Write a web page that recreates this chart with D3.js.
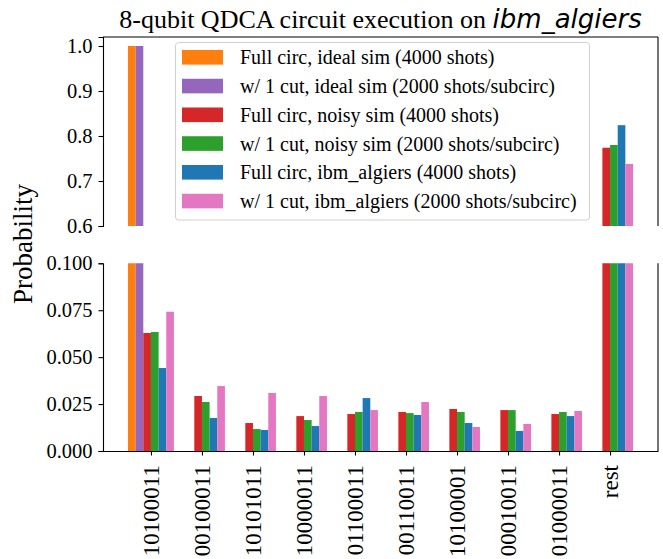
<!DOCTYPE html>
<html>
<head>
<meta charset="utf-8">
<script src="https://cdn.jsdelivr.net/npm/d3@7"></script>
<style>
  html, body { margin: 0; padding: 0; background: #fff; }
  svg text { font-family: "Liberation Serif", "Times New Roman", serif; fill: #000; }
  .axis path, .axis line { stroke: #000; stroke-width: 1.1; }
</style>
</head>
<body>
<div id="chart"></div>
<script>
// Outcome bitstrings (x categories)
const CATEGORIES = ["10100011", "00100011", "10101011", "10000011", "01100011",
                    "00110011", "10100001", "00010011", "01000011", "rest"];

const SERIES_NAMES = [
  "Full circ, ideal sim (4000 shots)",
  "w/ 1 cut, ideal sim (2000 shots/subcirc)",
  "Full circ, noisy sim (4000 shots)",
  "w/ 1 cut, noisy sim (2000 shots/subcirc)",
  "Full circ, ibm_algiers (4000 shots)",
  "w/ 1 cut, ibm_algiers (2000 shots/subcirc)",
];
const SERIES_COLORS = ["#ff7f0e", "#9467bd", "#d62728", "#2ca02c", "#1f77b4", "#e377c2"];

const FULL_IDEAL  = [1.0, 0, 0, 0, 0, 0, 0, 0, 0, 0];
const CUT_IDEAL   = [1.0, 0, 0, 0, 0, 0, 0, 0, 0, 0];
const FULL_NOISY  = [0.0629, 0.0293, 0.0149, 0.0186, 0.0197, 0.0208, 0.0224, 0.0218, 0.0197, 0.774];
const CUT_NOISY   = [0.0634, 0.0261, 0.0117, 0.0165, 0.0208, 0.0202, 0.0208, 0.0218, 0.0208, 0.780];
const FULL_DEVICE = [0.0442, 0.0176, 0.0112, 0.0133, 0.0282, 0.0192, 0.0149, 0.0107, 0.0186, 0.824];
const CUT_DEVICE  = [0.0742, 0.0346, 0.0309, 0.0293, 0.0218, 0.0261, 0.0128, 0.0144, 0.0213, 0.738];

const SERIES_VALUES = [FULL_IDEAL, CUT_IDEAL, FULL_NOISY, CUT_NOISY, FULL_DEVICE, CUT_DEVICE];

const TOP_TICKS = [0.6, 0.7, 0.8, 0.9, 1.0];
const BOTTOM_TICKS = [0, 0.025, 0.05, 0.075, 0.1];

const W = 663, H = 559;
const BAR_W = 0.15;

const svg = d3.select("#chart").append("svg").attr("width", W).attr("height", H);

const x = d3.scaleLinear().domain([-0.94, 9.94]).range([103, 658]);
const yTop = d3.scaleLinear().domain([0.6, 1.02]).range([226, 37]);
const yBot = d3.scaleLinear().domain([0, 0.1]).range([451, 263.3]);

const bars = [];
SERIES_VALUES.forEach((vals, s) => {
  vals.forEach((v, i) => bars.push({ s, i, v }));
});

function panel(id, y, lo, hi) {
  const [y0, y1] = y.range();
  svg.append("clipPath").attr("id", id)
    .append("rect").attr("x", x.range()[0]).attr("y", y1)
    .attr("width", x.range()[1] - x.range()[0]).attr("height", y0 - y1);
  svg.append("g").attr("clip-path", `url(#${id})`)
    .selectAll("rect").data(bars.filter((d) => d.v > lo)).enter().append("rect")
      .attr("x", (d) => x(d.i + (d.s - 3) * BAR_W))
      .attr("width", x(BAR_W) - x(0))
      .attr("y", (d) => y(Math.min(d.v, hi + 0.01)))
      .attr("height", (d) => y(lo) - y(Math.min(d.v, hi + 0.01)))
      .attr("fill", (d) => SERIES_COLORS[d.s]);
}
panel("clip-top", yTop, 0.6, 1.02);
panel("clip-bot", yBot, 0, 0.1);

// Top panel axes: left, top, right spines, no bottom
svg.append("g").attr("class", "axis").attr("transform", `translate(${x.range()[0]},0)`)
  .call(d3.axisLeft(yTop).tickValues(TOP_TICKS).tickFormat(d3.format(".1f")).tickSize(4.5).tickPadding(6))
  .call((g) => g.selectAll("text").attr("font-size", 20.5).style("font-family", "Liberation Serif"));
svg.append("line").attr("x1", x.range()[0]).attr("x2", x.range()[1]).attr("y1", 37).attr("y2", 37)
  .attr("stroke", "#000").attr("stroke-width", 1.1);
svg.append("line").attr("x1", x.range()[1]).attr("x2", x.range()[1]).attr("y1", 37).attr("y2", 226)
  .attr("stroke", "#000").attr("stroke-width", 1.1);

// Bottom panel axes: left, bottom, right spines
svg.append("g").attr("class", "axis").attr("transform", `translate(${x.range()[0]},0)`)
  .call(d3.axisLeft(yBot).tickValues(BOTTOM_TICKS).tickFormat(d3.format(".3f")).tickSize(4.5).tickPadding(6))
  .call((g) => g.selectAll("text").attr("font-size", 20.5).style("font-family", "Liberation Serif"));
svg.append("line").attr("x1", x.range()[1]).attr("x2", x.range()[1]).attr("y1", 263.3).attr("y2", 451)
  .attr("stroke", "#000").attr("stroke-width", 1.1);
const xAxis = svg.append("g").attr("class", "axis").attr("transform", "translate(0,451)")
  .call(d3.axisBottom(x).tickValues(d3.range(CATEGORIES.length)).tickFormat((i) => CATEGORIES[i]).tickSize(4.5).tickSizeOuter(0));
xAxis.selectAll("text")
  .attr("font-size", 23).style("font-family", "Liberation Serif")
  .attr("transform", "rotate(-90)")
  .attr("text-anchor", "end")
  .attr("x", -14).attr("y", 0).attr("dy", "0.32em");

// Title
const title = svg.append("text").attr("x", 380.5).attr("y", 27.5).attr("text-anchor", "middle")
  .attr("font-size", 26);
title.append("tspan").text("8-qubit QDCA circuit execution on ");
title.append("tspan").style("font-family", "DejaVu Sans").attr("font-style", "italic").text("ibm_algiers");

// Y label
svg.append("text").attr("transform", "translate(32,244) rotate(-90)").attr("text-anchor", "middle")
  .attr("font-size", 27).text("Probability");

// Legend
const lg = svg.append("g");
lg.append("rect").attr("x", 175.5).attr("y", 42.5).attr("width", 414).attr("height", 177.5).attr("rx", 3)
  .attr("fill", "#fff").attr("fill-opacity", 0.8).attr("stroke", "#d0d0d0").attr("stroke-width", 1);
const rows = lg.selectAll("g.row").data(SERIES_NAMES).enter().append("g")
  .attr("transform", (d, k) => `translate(0,${57.3 + k * 28.75})`);
rows.append("rect").attr("x", 182).attr("y", -7.3).attr("width", 41).attr("height", 14.6)
  .attr("fill", (d, k) => SERIES_COLORS[k]);
rows.append("text").attr("x", 240).attr("dy", "0.35em").attr("font-size", 20).text((d) => d);
</script>
</body>
</html>
